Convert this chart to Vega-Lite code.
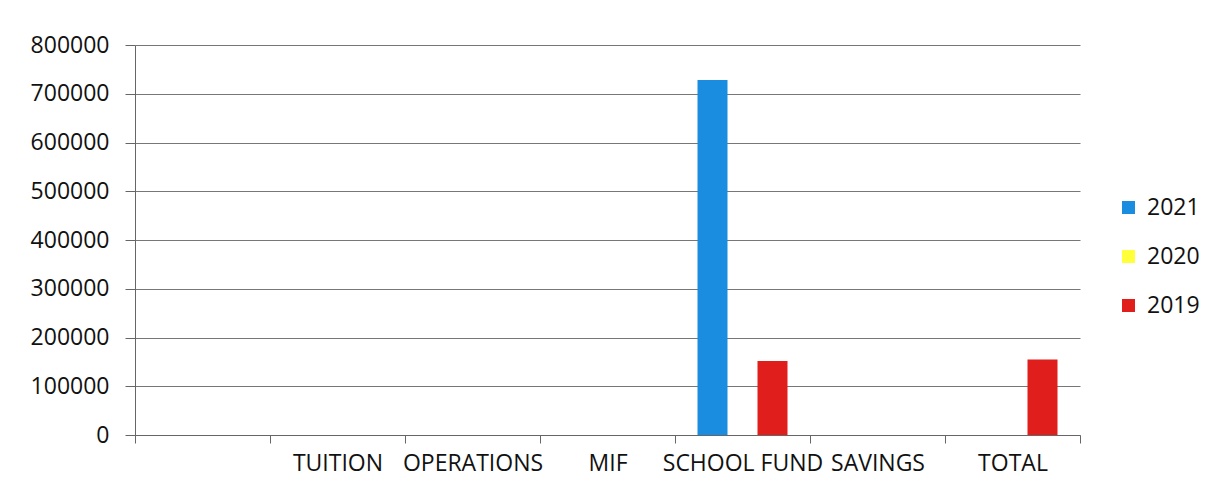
{
  "$schema": "https://vega.github.io/schema/vega-lite/v6.json",
  "autosize": {"type": "none"},
  "width": 945,
  "height": 390,
  "padding": {"left": 135, "top": 45, "right": 136, "bottom": 64},
  "background": "white",
  "config": {
    "view": {"stroke": null},
    "font": "Open Sans",
    "axis": {"labelFont": "Open Sans", "labelFontSize": 23, "labelColor": "#111"}
  },
  "data": {
    "values": [
      {"category": " ", "year": "2021", "value": 0},
      {"category": " ", "year": "2020", "value": 0},
      {"category": " ", "year": "2019", "value": 0},
      {"category": "TUITION", "year": "2021", "value": 0},
      {"category": "TUITION", "year": "2020", "value": 0},
      {"category": "TUITION", "year": "2019", "value": 0},
      {"category": "OPERATIONS", "year": "2021", "value": 0},
      {"category": "OPERATIONS", "year": "2020", "value": 0},
      {"category": "OPERATIONS", "year": "2019", "value": 0},
      {"category": "MIF", "year": "2021", "value": 0},
      {"category": "MIF", "year": "2020", "value": 0},
      {"category": "MIF", "year": "2019", "value": 0},
      {"category": "SCHOOL FUND", "year": "2021", "value": 728000},
      {"category": "SCHOOL FUND", "year": "2020", "value": 0},
      {"category": "SCHOOL FUND", "year": "2019", "value": 152000},
      {"category": "SAVINGS", "year": "2021", "value": 0},
      {"category": "SAVINGS", "year": "2020", "value": 0},
      {"category": "SAVINGS", "year": "2019", "value": 0},
      {"category": "TOTAL", "year": "2021", "value": 0},
      {"category": "TOTAL", "year": "2020", "value": 0},
      {"category": "TOTAL", "year": "2019", "value": 155000}
    ]
  },
  "mark": {"type": "bar"},
  "encoding": {
    "x": {
      "field": "category",
      "type": "nominal",
      "sort": null,
      "scale": {"paddingInner": 0, "paddingOuter": 0},
      "axis": {
        "title": null,
        "labelAngle": 0,
        "tickBand": "extent",
        "tickSize": 8,
        "tickColor": "#666",
        "domainColor": "#666",
        "labelPadding": 9,
        "grid": false
      }
    },
    "xOffset": {
      "field": "year",
      "type": "nominal",
      "sort": ["2021", "2020", "2019"],
      "scale": {"paddingInner": 0, "paddingOuter": 0.75}
    },
    "y": {
      "field": "value",
      "type": "quantitative",
      "scale": {"domain": [0, 800000], "nice": false},
      "axis": {
        "title": null,
        "values": [0, 100000, 200000, 300000, 400000, 500000, 600000, 700000, 800000],
        "format": "d",
        "tickSize": 10,
        "tickColor": "#666",
        "domainColor": "#666",
        "gridColor": "#777",
        "gridOpacity": 1,
        "labelPadding": 16
      }
    },
    "color": {
      "field": "year",
      "type": "nominal",
      "scale": {"domain": ["2021", "2020", "2019"], "range": ["#1b8de0", "#ffff3a", "#e01f1c"]},
      "legend": {
        "title": null,
        "orient": "none",
        "legendX": 982,
        "legendY": 151,
        "symbolType": "square",
        "symbolSize": 169,
        "symbolStrokeWidth": 0,
        "labelFontSize": 23,
        "labelFont": "Open Sans",
        "labelColor": "#111",
        "rowPadding": 25,
        "labelOffset": 7
      }
    }
  }
}
